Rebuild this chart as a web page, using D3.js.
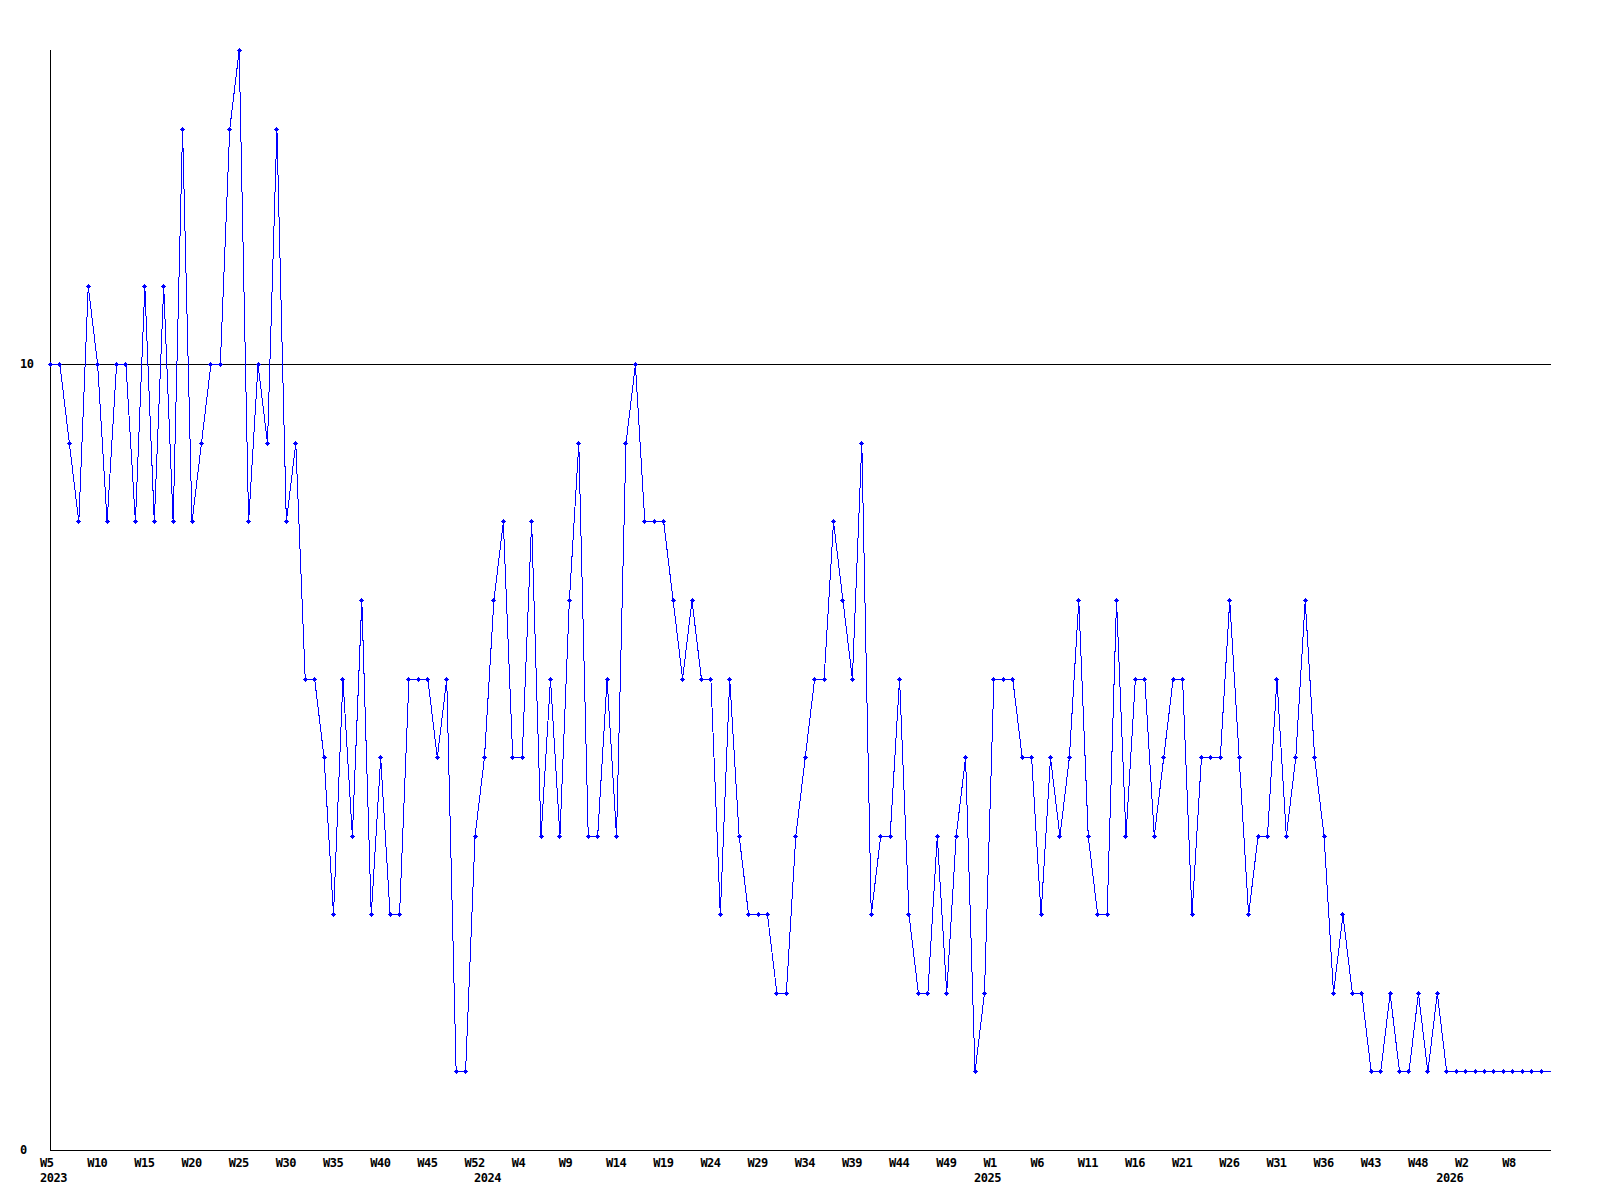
<!DOCTYPE html>
<html>
<head>
<meta charset="utf-8">
<script src="https://cdn.jsdelivr.net/npm/d3@7"></script>
<style>
  html, body { margin: 0; padding: 0; background: #ffffff; }
  svg { display: block; }
  text { font-family: "DejaVu Sans Mono", "Liberation Mono", monospace; font-weight: bold; font-size: 12px; letter-spacing: -0.5px; fill: #000; }
</style>
</head>
<body>
<svg id="chart" width="1600" height="1200"></svg>
<script>
// ---- DATA ----
const years = [
  2023,2023,2023,2023,2023,2023,2023,2023,2023,2023, 2023,2023,2023,2023,2023,2023,2023,2023,2023,2023,
  2023,2023,2023,2023,2023,2023,2023,2023,2023,2023, 2023,2023,2023,2023,2023,2023,2023,2023,2023,2023,
  2023,2023,2023,2023,2023,2023,2024,2024,2024,2024, 2024,2024,2024,2024,2024,2024,2024,2024,2024,2024,
  2024,2024,2024,2024,2024,2024,2024,2024,2024,2024, 2024,2024,2024,2024,2024,2024,2024,2024,2024,2024,
  2024,2024,2024,2024,2024,2024,2024,2024,2024,2024, 2024,2024,2024,2024,2024,2024,2024,2024,2024,2025,
  2025,2025,2025,2025,2025,2025,2025,2025,2025,2025, 2025,2025,2025,2025,2025,2025,2025,2025,2025,2025,
  2025,2025,2025,2025,2025,2025,2025,2025,2025,2025, 2025,2025,2025,2025,2025,2025,2025,2025,2025,2025,
  2025,2025,2025,2025,2025,2025,2025,2025,2026,2026, 2026,2026,2026,2026,2026,2026,2026,2026,2026,2026
];
const weeks = [
  "W5","W6","W7","W8","W9","W10","W11","W12","W13","W14",
  "W15","W16","W17","W18","W19","W20","W21","W22","W23","W24",
  "W25","W26","W27","W28","W29","W30","W31","W32","W33","W34",
  "W35","W36","W37","W38","W39","W40","W41","W42","W43","W44",
  "W45","W46","W47","W49","W51","W52","W0","W1","W2","W3",
  "W4","W5","W6","W7","W8","W9","W10","W11","W12","W13",
  "W14","W15","W16","W17","W18","W19","W20","W21","W22","W23",
  "W24","W25","W26","W27","W28","W29","W30","W31","W32","W33",
  "W34","W35","W36","W37","W38","W39","W40","W41","W42","W43",
  "W44","W45","W46","W47","W48","W49","W50","W51","W52","W0",
  "W1","W2","W3","W4","W5","W6","W7","W8","W9","W10",
  "W11","W12","W13","W14","W15","W16","W17","W18","W19","W20",
  "W21","W22","W23","W24","W25","W26","W27","W28","W29","W30",
  "W31","W32","W33","W34","W35","W36","W37","W39","W40","W42",
  "W43","W44","W45","W46","W47","W48","W49","W51","W0","W1",
  "W2","W3","W4","W5","W7","W8","W9","W10","W11","W12"
];
const values = [
  10,10,9,8,11,10,8,10,10,8,
  11,8,11,8,13,8,9,10,10,13,
  14,8,10,9,13,8,9,6,6,5,
  3,6,4,7,3,5,3,3,6,6,
  6,5,6,1,1,4,5,7,8,5,
  5,8,4,6,4,7,9,4,4,6,
  4,9,10,8,8,8,7,6,7,6,
  6,3,6,4,3,3,3,2,2,4,
  5,6,6,8,7,6,9,3,4,4,
  6,3,2,2,4,2,4,5,1,2,
  6,6,6,5,5,3,5,4,5,7,
  4,3,3,7,4,6,6,4,5,6,
  6,3,5,5,5,7,5,3,4,4,
  6,4,5,7,5,4,2,3,2,2,
  1,1,2,1,1,2,1,2,1,1,
  1,1,1,1,1,1,1,1,1,1
];
const yTickValues = [0, 10];
const gridValues = [10];
const yMax = 14;

// ---- CHART ----
(function () {
const categories = weeks.map((w, i) => years[i] + "-" + w);
const data = categories.map((c, i) => ({ key: c, week: weeks[i], year: years[i], value: values[i], idx: i }));

const m = { left: 50, right: 1550, top: 50, bottom: 1150 };
const svg = d3.select("#chart");

const x = d3.scalePoint().domain(categories).range([m.left, m.right]).padding(0);
const y = d3.scaleLinear().domain([0, yMax]).range([m.bottom, m.top]);

// gridline(s)
svg.append("g").selectAll("line").data(gridValues).join("line")
  .attr("x1", m.left).attr("x2", m.right + 1)
  .attr("y1", d => Math.round(y(d)) + 0.5).attr("y2", d => Math.round(y(d)) + 0.5)
  .attr("stroke", "#000").attr("stroke-width", 1).attr("shape-rendering", "crispEdges");

// axes lines
svg.append("line").attr("x1", m.left + 0.5).attr("x2", m.left + 0.5).attr("y1", m.top).attr("y2", m.bottom + 1)
  .attr("stroke", "#000").attr("shape-rendering", "crispEdges");
svg.append("line").attr("x1", m.left).attr("x2", m.right + 1).attr("y1", m.bottom + 0.5).attr("y2", m.bottom + 0.5)
  .attr("stroke", "#000").attr("shape-rendering", "crispEdges");

// y labels
svg.append("g").selectAll("text").data(yTickValues).join("text")
  .attr("x", 20).attr("y", d => y(d) + 4)
  .attr("text-anchor", "start")
  .text(d => d);

// x labels (every 5th point) and year labels (first point of each year)
const weekTicks = data.filter(d => d.idx % 5 === 0);
svg.append("g").selectAll("text").data(weekTicks).join("text")
  .attr("x", d => x(d.key) - 10).attr("y", 1167)
  .attr("text-anchor", "start")
  .text(d => d.week);

const yearTicks = data.filter((d, i) => i === 0 || years[i] !== years[i - 1]);
svg.append("g").selectAll("text").data(yearTicks).join("text")
  .attr("x", d => x(d.key) - 10).attr("y", 1182)
  .attr("text-anchor", "start")
  .text(d => d.year);

// line
const line = d3.line().x(d => x(d.key) + 0.5).y(d => y(d.value) + 0.5);
svg.append("path").datum(data)
  .attr("d", line)
  .attr("fill", "none").attr("stroke", "#0000ff").attr("stroke-width", 1)
  .attr("shape-rendering", "crispEdges");

// markers
const markerPath = "M-1,-1h3v3h-3z M-2,0h5v1h-5z M0,-2h1v5h-1z";
svg.append("g").selectAll("path").data(data.slice(0, data.length - 1)).join("path")
  .attr("transform", d => `translate(${Math.round(x(d.key))},${Math.round(y(d.value))})`)
  .attr("d", markerPath)
  .attr("fill", "#0000ff")
  .attr("shape-rendering", "crispEdges");
})();
</script>
</body>
</html>
